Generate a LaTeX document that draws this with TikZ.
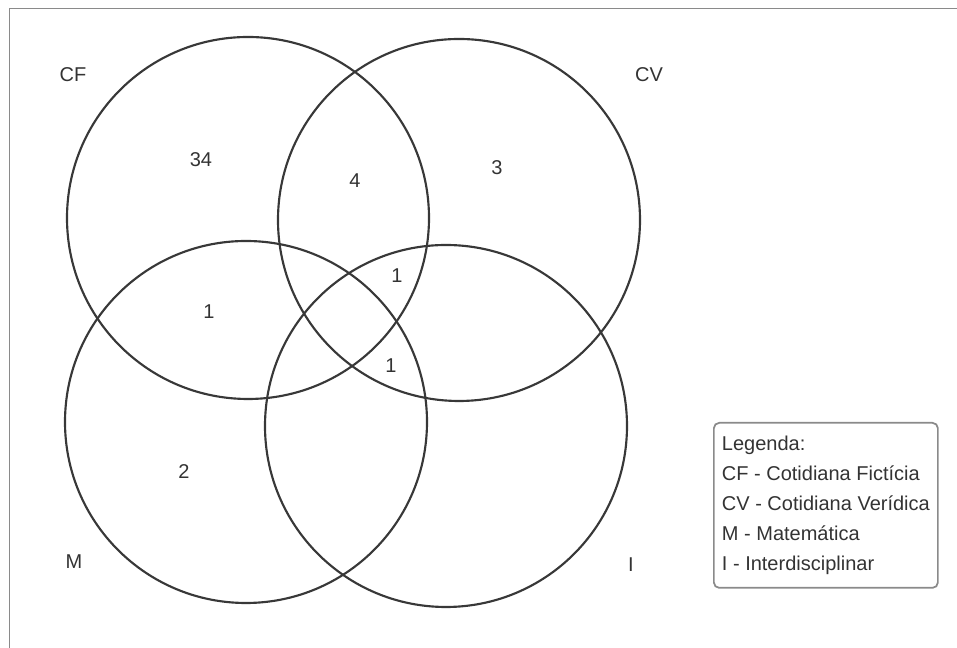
\documentclass[tikz,border=0pt]{standalone}
\usepackage{fontspec}
\setmainfont{Liberation Sans}
\definecolor{linegray}{HTML}{383838}
\definecolor{framegray}{HTML}{8A8A8A}
\definecolor{textgray}{HTML}{333333}
\begin{document}
\begin{tikzpicture}[x=0.75pt, y=0.75pt,
    set/.style={circle, draw=linegray, line width=1.6pt, minimum size=271.5pt, inner sep=0pt},
    lbl/.style={text=textgray, font=\fontsize{15}{18}\selectfont},
    legend/.style={draw=framegray, line width=1.3pt, rounded corners=4pt, align=left,
      text=textgray, font=\fontsize{15}{22.5}\selectfont, anchor=north west,
      minimum width=168pt, minimum height=123.75pt, inner sep=3pt}]
    \useasboundingbox (0,0) rectangle (957,648);
    \draw[framegray, line width=1pt] (9.5,0) |- (957,639.5);
    \node[set] (CF) at (248,430) {};
    \node[set] (CV) at (459,428) {};
    \node[set] (M) at (246,226) {};
    \node[set] (I) at (446,222) {};
    \node[lbl] (tCF) at (73,573) {CF};
    \node[lbl] (tCV) at (649,573) {CV};
    \node[lbl] (tM) at (74,86) {M};
    \node[lbl] (tI) at (631,83) {I};
    \node[lbl] (n1) at (201,488) {34};
    \node[lbl] (n2) at (355,467) {4};
    \node[lbl] (n3) at (497,480) {3};
    \node[lbl] (n4) at (397,372) {1};
    \node[lbl] (n5) at (209,336) {1};
    \node[lbl] (n6) at (391,282) {1};
    \node[lbl] (n7) at (184,176) {2};
    \node[legend] (leg) at (713,226) {Legenda:\\CF - Cotidiana Fictícia\\CV - Cotidiana Verídica\\M - Matemática\\I - Interdisciplinar};
  \end{tikzpicture}
\end{document}
